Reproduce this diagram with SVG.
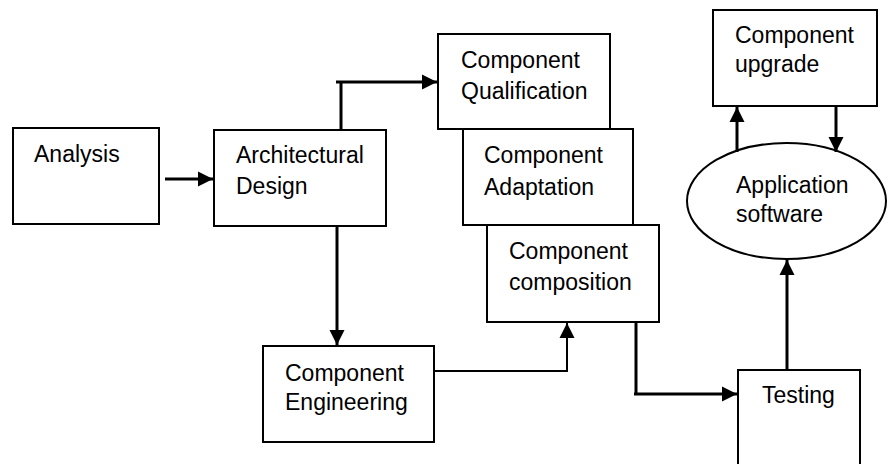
<svg xmlns="http://www.w3.org/2000/svg" width="889" height="464" viewBox="0 0 889 464">
<style>
.box{fill:#fff;stroke:#000;stroke-width:2}
.lbl{font-family:"Liberation Sans",Arial,sans-serif;font-size:23px;fill:#000}
.conn{fill:none;stroke:#000;stroke-width:3}
.thin{fill:none;stroke:#000;stroke-width:2}
</style>
<defs>
<marker id="ah" markerUnits="userSpaceOnUse" markerWidth="16" markerHeight="16" refX="15" refY="8" orient="auto" viewBox="0 0 16 16">
<path d="M0,0.5 L15,8 L0,15.5 z" fill="#000"/>
</marker>
</defs>
<rect width="889" height="464" fill="#fff"/>
<g id="analysis">
<rect class="box" x="13" y="128" width="146" height="96"/>
<text class="lbl" x="34" y="162">Analysis</text>
</g>
<g id="arch">
<rect class="box" x="214" y="130" width="172" height="96"/>
<text class="lbl" x="236" y="163">Architectural</text>
<text class="lbl" x="236" y="194">Design</text>
</g>
<g id="qual">
<rect class="box" x="438" y="34" width="172" height="95"/>
<text class="lbl" x="461" y="68">Component</text>
<text class="lbl" x="461" y="99">Qualification</text>
</g>
<g id="adapt">
<rect class="box" x="463" y="129" width="170" height="96"/>
<text class="lbl" x="484" y="163">Component</text>
<text class="lbl" x="484" y="195">Adaptation</text>
</g>
<g id="compo">
<rect class="box" x="487" y="225" width="172" height="97"/>
<text class="lbl" x="509" y="259">Component</text>
<text class="lbl" x="509" y="290">composition</text>
</g>
<g id="eng">
<rect class="box" x="263" y="346" width="171" height="96"/>
<text class="lbl" x="285" y="381">Component</text>
<text class="lbl" x="285" y="410">Engineering</text>
</g>
<g id="testing">
<rect class="box" x="738" y="370" width="122" height="110"/>
<text class="lbl" x="762" y="403">Testing</text>
</g>
<g id="upgrade">
<rect class="box" x="713" y="10" width="164" height="96"/>
<text class="lbl" x="735" y="43">Component</text>
<text class="lbl" x="735" y="72">upgrade</text>
</g>
<g id="app">
<ellipse class="box" cx="786.5" cy="201" rx="99.5" ry="58"/>
<text class="lbl" x="736" y="193">Application</text>
<text class="lbl" x="736" y="222">software</text>
</g>
<g id="connectors">
<path class="conn" d="M165,179 L213,179" marker-end="url(#ah)"/>
<path class="conn" d="M341,130 L341,82 M336,82 L437,82" marker-end="url(#ah)"/>
<path class="conn" d="M337,226 L337,345" marker-end="url(#ah)"/>
<path class="thin" d="M434,371 L567,371 L567,323" marker-end="url(#ah)"/>
<path class="conn" d="M636,322 L636,394 M634,394 L737,394" marker-end="url(#ah)"/>
<path class="conn" d="M787,370 L787,260" marker-end="url(#ah)"/>
<path class="conn" d="M737,152 L737,107" marker-end="url(#ah)"/>
<path class="conn" d="M836,106 L836,152" marker-end="url(#ah)"/>
</g>
</svg>
